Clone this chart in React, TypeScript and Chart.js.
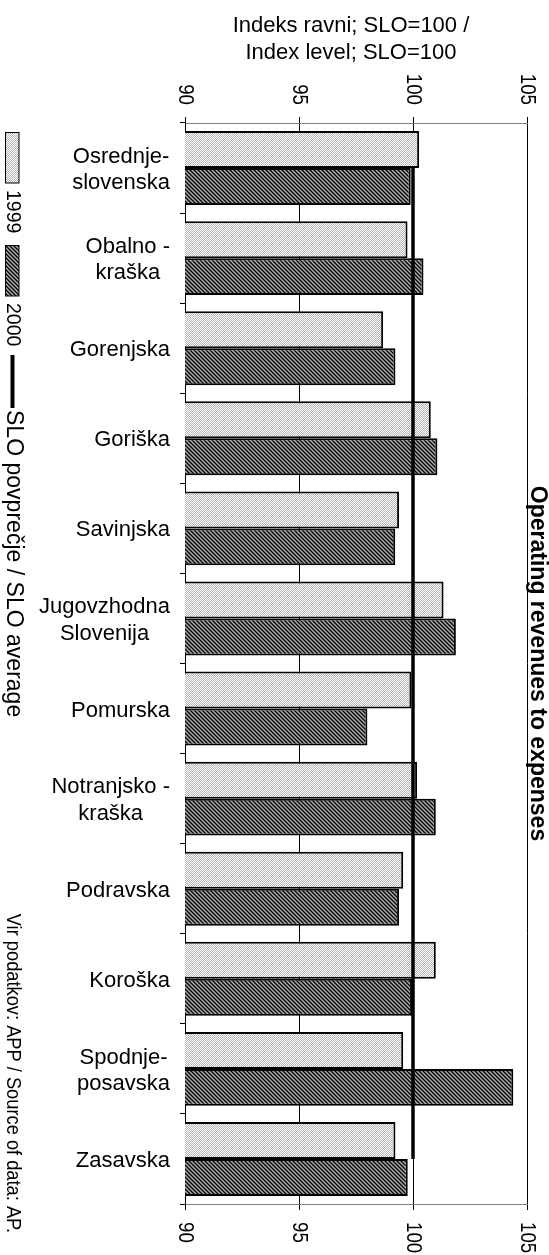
import React, { useEffect, useRef } from 'react';
import { Chart, registerables } from 'chart.js';

Chart.register(...registerables);

const categories: string[][] = [
  ['Osrednje-', 'slovenska'],
  ['Obalno -', 'kraška'],
  ['Gorenjska'],
  ['Goriška'],
  ['Savinjska'],
  ['Jugovzhodna', 'Slovenija'],
  ['Pomurska'],
  ['Notranjsko -', 'kraška'],
  ['Podravska'],
  ['Koroška'],
  ['Spodnje-', 'posavska'],
  ['Zasavska'],
];

const values1999 = [100.27, 99.76, 98.69, 100.78, 99.39, 101.34, 99.93, 100.18, 99.57, 101.0, 99.57, 99.23];
const values2000 = [99.9, 100.46, 99.23, 101.07, 99.22, 101.88, 98.0, 101.0, 99.39, 99.96, 104.4, 99.77];
const averageValues = [100, 100, 100, 100, 100, 100, 100, 100, 100, 100, 100, 100];

const seriesNames = ['1999', '2000', 'SLO povprečje / SLO average'];
const axisMin = 90;
const axisMax = 105;
const axisStep = 5;
const axisTitleLines = ['Indeks ravni; SLO=100 /', 'Index level; SLO=100'];
const chartTitle = 'Operating revenues to expenses';
const sourceText = 'Vir podatkov: APP / Source of data: AP.';

const FONT = '"Liberation Sans", Arial, Helvetica, sans-serif';

function makePattern(kind: 'light' | 'dark'): CanvasPattern | string {
  const c = document.createElement('canvas');
  c.width = 4;
  c.height = 4;
  const g = c.getContext('2d');
  if (!g) return kind === 'light' ? '#dcdcdc' : '#606060';
  for (let i = 0; i < 4; i++) {
    for (let j = 0; j < 4; j++) {
      let col: string;
      if (kind === 'light') {
        col = (i + j) % 2 === 0 ? '#ffffff' : '#b4b4b4';
      } else {
        const k = ((i - j) % 4 + 4) % 4;
        col = k === 0 ? '#000000' : k === 2 ? '#a8a8a8' : '#606060';
      }
      g.fillStyle = col;
      g.fillRect(i, j, 1, 1);
    }
  }
  const p = g.createPattern(c, 'repeat');
  return p || (kind === 'light' ? '#dcdcdc' : '#606060');
}

function drawRot(
  ctx: CanvasRenderingContext2D,
  text: string,
  x: number,
  y: number,
  align: CanvasTextAlign,
  font: string,
  sx = 1
) {
  ctx.save();
  ctx.translate(x, y);
  ctx.rotate(Math.PI / 2);
  ctx.scale(sx, 1);
  ctx.font = font;
  ctx.textAlign = align;
  ctx.textBaseline = 'alphabetic';
  ctx.fillText(text, 0, 0);
  ctx.restore();
}

export default function App() {
  const ref = useRef<HTMLCanvasElement>(null);

  useEffect(() => {
    if (!ref.current) return;
    const light = makePattern('light');
    const dark = makePattern('dark');

    const textPlugin = {
      id: 'customTexts',
      afterDraw(chart: any) {
        const ctx: CanvasRenderingContext2D = chart.ctx;
        const xs = chart.scales.x;
        const ys = chart.scales.y;
        const area = chart.chartArea;
        ctx.save();
        ctx.fillStyle = '#000';

        // category labels
        ctx.font = `22px ${FONT}`;
        ctx.textAlign = 'center';
        ctx.textBaseline = 'alphabetic';
        categories.forEach((lines, i) => {
          const cy = ys.getPixelForValue(i);
          const w = Math.max(...lines.map((l) => ctx.measureText(l).width));
          const cx = area.left - 15 - w / 2;
          const pitch = 26.6;
          lines.forEach((l, j) => {
            const by = cy + 8 + (j - (lines.length - 1) / 2) * pitch;
            ctx.fillText(l, cx, by);
          });
        });

        // value axis title (top)
        ctx.font = `22px ${FONT}`;
        ctx.textAlign = 'center';
        ctx.fillText(axisTitleLines[0], 351, 31.7);
        ctx.fillText(axisTitleLines[1], 351, 59.3);

        // value tick labels, top and bottom, rotated
        const tickFont = `22px ${FONT}`;
        xs.ticks.forEach((t: any) => {
          const px = xs.getPixelForValue(t.value);
          const label = String(t.value);
          drawRot(ctx, label, px - 6.5, area.top - 18, 'right', tickFont, 0.85);
          drawRot(ctx, label, px - 6.5, area.bottom + 18, 'left', tickFont, 0.85);
        });

        // chart title on the right
        drawRot(ctx, chartTitle, 531, (area.top + area.bottom) / 2, 'center', `bold 23px ${FONT}`);

        // legend on the left
        ctx.lineWidth = 1;
        ctx.strokeStyle = '#000';
        ctx.fillStyle = light as any;
        ctx.fillRect(5.5, 132.5, 13.5, 50.5);
        ctx.strokeRect(5.5, 132.5, 13.5, 50.5);
        ctx.fillStyle = '#000';
        drawRot(ctx, seriesNames[0], 7, 190, 'left', `19.5px ${FONT}`);
        ctx.fillStyle = dark as any;
        ctx.fillRect(5.5, 245.5, 13.5, 50.5);
        ctx.strokeRect(5.5, 245.5, 13.5, 50.5);
        ctx.fillStyle = '#000';
        drawRot(ctx, seriesNames[1], 7, 303, 'left', `19.5px ${FONT}`);
        ctx.lineWidth = 4;
        ctx.beginPath();
        ctx.moveTo(12.5, 355);
        ctx.lineTo(12.5, 408);
        ctx.stroke();
        drawRot(ctx, seriesNames[2], 7, 410, 'left', `23.5px ${FONT}`, 0.98);

        // source
        drawRot(ctx, sourceText, 7, 1233, 'right', `21px ${FONT}`, 0.87);
        ctx.restore();
      },
    };

    const chart = new Chart(ref.current, {
      type: 'bar',
      data: {
        labels: categories.map((c) => c.join(' ')),
        datasets: [
          {
            type: 'line',
            label: seriesNames[2],
            data: averageValues,
            indexAxis: 'y',
            borderColor: '#000',
            borderWidth: 3.5,
            pointRadius: 0,
            fill: false,
            order: 0,
            xAxisID: 'x',
            yAxisID: 'y',
          } as any,
          {
            type: 'bar',
            label: seriesNames[0],
            data: values1999,
            backgroundColor: light as any,
            borderColor: '#000',
            borderWidth: 2,
            borderSkipped: false,
            barPercentage: 1,
            categoryPercentage: 0.82,
            order: 1,
            xAxisID: 'x',
            yAxisID: 'y',
          },
          {
            type: 'bar',
            label: seriesNames[1],
            data: values2000,
            backgroundColor: dark as any,
            borderColor: '#000',
            borderWidth: 2,
            borderSkipped: false,
            barPercentage: 1,
            categoryPercentage: 0.82,
            order: 1,
            xAxisID: 'x',
            yAxisID: 'y',
          },
        ],
      },
      options: {
        indexAxis: 'y',
        responsive: false,
        animation: false,
        devicePixelRatio: 1,
        layout: { padding: { left: 0, right: 22, top: 0, bottom: 0 } },
        plugins: {
          legend: { display: false },
          tooltip: { enabled: false },
          title: { display: false },
        },
        scales: {
          x: {
            type: 'linear',
            position: 'bottom',
            min: axisMin,
            max: axisMax,
            ticks: { stepSize: axisStep, display: false },
            grid: {
              color: '#000',
              lineWidth: 1,
              drawOnChartArea: true,
              drawTicks: true,
              tickLength: 6,
            },
            border: { display: true, color: '#808080', width: 1 },
            afterFit: (s: any) => {
              s.height = 51;
            },
          },
          xTop: {
            type: 'linear',
            position: 'top',
            axis: 'x',
            min: axisMin,
            max: axisMax,
            ticks: { stepSize: axisStep, display: false },
            grid: {
              color: '#000',
              lineWidth: 1,
              drawOnChartArea: false,
              drawTicks: true,
              tickLength: 6,
            },
            border: { display: true, color: '#808080', width: 1 },
            afterFit: (s: any) => {
              s.height = 123;
            },
          },
          y: {
            type: 'category',
            position: 'left',
            offset: true,
            ticks: { display: false },
            grid: {
              offset: true,
              color: '#000',
              lineWidth: 1,
              drawOnChartArea: false,
              drawTicks: true,
              tickLength: 5,
            },
            border: { display: true, color: '#000', width: 1 },
            afterFit: (s: any) => {
              s.width = 185;
            },
          },
        },
      } as any,
      plugins: [textPlugin],
    });
    return () => chart.destroy();
  }, []);

  return (
    <div style={{ position: 'absolute', left: 0, top: 0, width: 549, height: 1255, background: '#fff' }}>
      <canvas ref={ref} width={549} height={1255} style={{ display: 'block' }} />
    </div>
  );
}
